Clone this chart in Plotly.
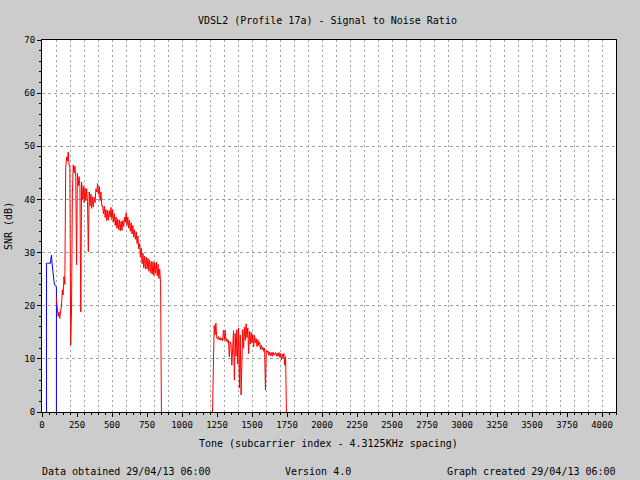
import plotly.graph_objects as go

# ---------------- data ----------------
blue_tones = [32, 32, 38, 44, 50, 56, 61, 64, 68, 71, 76, 81, 86, 93, 98, 103, 103]
blue_snr = [0, 28.0, 28.0, 28.0, 28.0, 28.0, 28.0, 29.0, 29.5, 28.2, 26.8, 25.8, 24.5, 23.8, 23.6, 23.5, 0]

red1_start = 103
red1_step = 6
red1_snr = [
    21.5, 20.2, 18.0, 18.8, 17.6, 19.0, 20.0, 23.0, 22.0, 25.5,
    24.0, 45.5, 48.0, 47.2, 48.9, 46.5, 46.0, 12.6, 19.5, 41.0,
    46.5, 45.0, 46.3, 44.3, 27.7, 44.9, 42.6, 44.3, 42.3, 18.8,
    43.3, 40.0, 42.5, 39.4, 42.2, 39.8, 42.0, 39.6, 30.1, 41.4,
    38.8, 41.0, 38.3, 40.5, 38.6, 40.4, 39.4, 42.0, 41.4, 43.0,
    41.0, 42.4, 39.8, 41.4, 38.8, 38.8, 37.3, 38.7, 36.6, 38.1,
    36.0, 37.9, 36.1, 37.9, 36.7, 38.5, 36.2, 38.1, 35.7, 37.3,
    35.1, 36.7, 34.6, 36.3, 34.3, 36.1, 34.1, 35.9, 34.2, 36.0,
    34.9, 36.7, 35.7, 37.5, 35.1, 36.7, 34.6, 36.1, 34.0, 35.6,
    33.5, 35.1, 32.9, 34.3, 32.5, 33.9, 31.7, 33.1, 30.7, 31.7,
    29.1, 30.9, 27.9, 29.9, 27.1, 29.3, 26.9, 29.1, 26.9, 28.9,
    26.5, 28.6, 26.2, 28.3, 25.9, 28.3, 25.7, 28.1, 26.1, 28.2,
    25.6, 27.8, 25.1, 26.9, 24.2, 0.0,
]

red2_start = 1218
red2_step = 6
red2_snr = [
    0.0, 13.8, 16.3, 14.5, 16.7, 14.0, 13.7, 14.2, 13.6, 14.0,
    13.5, 13.9, 13.4, 15.4, 13.6, 15.4, 13.3, 13.8, 13.1, 13.5,
    10.4, 13.2, 12.8, 8.8, 12.5, 15.3, 6.0, 14.8, 10.5, 15.5,
    9.0, 15.8, 4.5, 14.5, 3.2, 13.0, 15.5, 12.0, 16.0, 13.5,
    16.6, 14.0, 15.8, 11.0, 15.2, 12.8, 15.0, 13.0, 14.6, 12.3,
    14.4, 13.0, 13.8, 12.3, 13.6, 12.5, 13.2, 11.8, 12.6, 11.7,
    12.2, 11.4, 12.0, 4.1, 11.6, 11.2, 11.5, 10.7, 11.3, 10.6,
    11.2, 10.5, 11.3, 10.7, 11.0, 11.2, 10.5, 11.1, 10.5, 11.2,
    10.3, 11.0, 9.8, 10.9, 10.2, 11.0, 8.8, 10.4, 0.0,
]

x_tick_vals = list(range(0, 4001, 250))
y_tick_vals = list(range(0, 71, 10))

title_text = "VDSL2 (Profile 17a) - Signal to Noise Ratio"
x_title = "Tone (subcarrier index - 4.3125KHz spacing)"
y_title = "SNR (dB)"
footer_left = "Data obtained 29/04/13 06:00"
footer_mid = "Version 4.0"
footer_right = "Graph created 29/04/13 06:00"

# ---------------- figure ----------------
red1_tones = [red1_start + i * red1_step for i in range(len(red1_snr))]
red2_tones = [red2_start + i * red2_step for i in range(len(red2_snr))]

FONT = "DejaVu Sans Mono"
GRID = "#a0a0a0"
XMAX = 4100

fig = go.Figure()
fig.add_trace(go.Scatter(x=blue_tones, y=blue_snr, mode="lines",
                         line=dict(color="#0000ff", width=1), hoverinfo="skip"))
fig.add_trace(go.Scatter(x=red1_tones, y=red1_snr, mode="lines",
                         line=dict(color="#ff0000", width=1), hoverinfo="skip"))
fig.add_trace(go.Scatter(x=red2_tones, y=red2_snr, mode="lines",
                         line=dict(color="#ff0000", width=1), hoverinfo="skip"))
# helper (empty) trace so the tick-label axis exists
fig.add_trace(go.Scatter(x=[None], y=[None], xaxis="x2", mode="lines",
                         hoverinfo="skip", showlegend=False))

fig.update_layout(
    width=640, height=480,
    margin=dict(l=42, r=24, t=40, b=68),
    paper_bgcolor="#cccccc", plot_bgcolor="#ffffff",
    showlegend=False,
    font=dict(family=FONT, size=10, color="#000000"),
    title=dict(text=title_text, x=327.5 / 640, xanchor="center", y=1 - 20 / 480,
               yanchor="middle", font=dict(family=FONT, size=10)),
    # main x axis: frame + dotted grid every 100 tones
    xaxis=dict(
        range=[0, XMAX], tickmode="linear", tick0=0, dtick=100,
        showticklabels=False, ticks="",
        showline=True, linecolor="#000000", linewidth=1, mirror=True,
        showgrid=True, gridcolor=GRID, griddash="2px,3px", gridwidth=1,
        zeroline=False,
    ),
    # overlay x axis: tick marks and labels
    xaxis2=dict(
        overlaying="x", anchor="y", side="bottom",
        range=[0, XMAX], tickmode="array", tickvals=x_tick_vals,
        ticks="outside", ticklen=4, tickwidth=1, tickcolor="#000000",
        showline=False, showgrid=False, zeroline=False,
        tickfont=dict(family=FONT, size=9),
        minor=dict(dtick=50, tick0=0, ticks="outside", ticklen=2,
                   tickcolor="#000000", showgrid=False),
    ),
    yaxis=dict(
        range=[0, 70], tickmode="array", tickvals=y_tick_vals,
        ticks="outside", ticklen=4, tickwidth=1, tickcolor="#000000",
        showline=True, linecolor="#000000", linewidth=1, mirror=True,
        showgrid=True, gridcolor=GRID, griddash="3px,3px", gridwidth=1,
        zeroline=False, tickfont=dict(family=FONT, size=9),
        minor=dict(dtick=2, tick0=0, ticks="outside", ticklen=2,
                   tickcolor="#000000", showgrid=False),
    ),
)

fig.add_annotation(text=x_title, xref="paper", yref="paper",
                   x=(328 - 42) / 574, y=(412 - 443) / 372,
                   xanchor="center", yanchor="middle", showarrow=False,
                   font=dict(family=FONT, size=10))
fig.add_annotation(text=y_title, xref="paper", yref="paper",
                   x=(8 - 42) / 574, y=0.5, textangle=-90,
                   xanchor="center", yanchor="middle", showarrow=False,
                   font=dict(family=FONT, size=10))
fig.add_annotation(text=footer_left, xref="paper", yref="paper",
                   x=-2 / 574, y=(412 - 471) / 372, xanchor="left", yanchor="middle",
                   showarrow=False, font=dict(family=FONT, size=10))
fig.add_annotation(text=footer_mid, xref="paper", yref="paper",
                   x=(318 - 42) / 574, y=(412 - 471) / 372, xanchor="center",
                   yanchor="middle", showarrow=False, font=dict(family=FONT, size=10))
fig.add_annotation(text=footer_right, xref="paper", yref="paper",
                   x=1 + 2 / 574, y=(412 - 471) / 372, xanchor="right", yanchor="middle",
                   showarrow=False, font=dict(family=FONT, size=10))

fig.write_html("out.html")
